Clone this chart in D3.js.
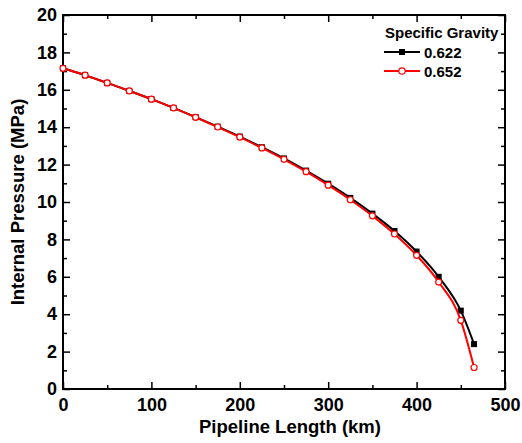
<!DOCTYPE html>
<html><head><meta charset="utf-8">
<script src="https://cdn.jsdelivr.net/npm/d3@7"></script>
<style>body{margin:0;background:#fff}svg text{font-family:Arial,"Liberation Sans",sans-serif;font-weight:bold}</style>
</head><body>
<svg id="c" width="522" height="443"></svg>
<script>
const distances = [0,25,50,75,100,125,150,175,200,225,250,275,300,325,350,375,400,425,450,465];
const sg622 = [17.15,16.78,16.37,15.94,15.5,15.03,14.54,14.03,13.5,12.93,12.33,11.68,10.98,10.22,9.38,8.45,7.35,6.0,4.19,2.4];
const sg652 = [17.15,16.78,16.37,15.94,15.5,15.03,14.53,14.01,13.47,12.89,12.28,11.62,10.9,10.12,9.26,8.29,7.15,5.72,3.67,1.15];
const seriesNames = ["0.622","0.652"];
const xTicks = [0,100,200,300,400,500];
const yTicks = [0,2,4,6,8,10,12,14,16,18,20];

const svg = d3.select("#c");
const L=63,R=505,T=15,B=389;
const x = d3.scaleLinear().domain([0,500]).range([L,R]);
const y = d3.scaleLinear().domain([0,20]).range([B,T]);

// frame
svg.append("rect").attr("x",L).attr("y",T).attr("width",R-L).attr("height",B-T)
  .attr("fill","none").attr("stroke","#000").attr("stroke-width",2);

const g = svg.append("g");
function ticks(axisGen, transform){
  const a = g.append("g").attr("transform",transform).call(axisGen);
  a.select(".domain").remove();
  a.selectAll("line").attr("stroke","#000").attr("stroke-width",1.5);
  return a;
}
const xMinor = d3.range(50,500,100);
const yMinor = d3.range(1,20,2);
// bottom
const xb = ticks(d3.axisBottom(x).tickValues(xTicks).tickSizeInner(-7).tickSizeOuter(0).tickPadding(9), `translate(0,${B})`);
xb.selectAll("text").attr("font-size",18).attr("fill","#000");
ticks(d3.axisBottom(x).tickValues(xMinor).tickSizeInner(-4).tickSizeOuter(0).tickFormat(""), `translate(0,${B})`);
// top
ticks(d3.axisTop(x).tickValues(xTicks).tickSizeInner(-7).tickSizeOuter(0).tickFormat(""), `translate(0,${T})`);
ticks(d3.axisTop(x).tickValues(xMinor).tickSizeInner(-4).tickSizeOuter(0).tickFormat(""), `translate(0,${T})`);
// left
const yl = ticks(d3.axisLeft(y).tickValues(yTicks).tickSizeInner(-7).tickSizeOuter(0).tickPadding(6), `translate(${L},0)`);
yl.selectAll("text").attr("font-size",18).attr("fill","#000");
ticks(d3.axisLeft(y).tickValues(yMinor).tickSizeInner(-4).tickSizeOuter(0).tickFormat(""), `translate(${L},0)`);
// right
ticks(d3.axisRight(y).tickValues(yTicks).tickSizeInner(-7).tickSizeOuter(0).tickFormat(""), `translate(${R},0)`);
ticks(d3.axisRight(y).tickValues(yMinor).tickSizeInner(-4).tickSizeOuter(0).tickFormat(""), `translate(${R},0)`);

// titles
svg.append("text").attr("x",290).attr("y",433).attr("text-anchor","middle").attr("font-size",18.5).text("Pipeline Length (km)");
svg.append("text").attr("transform",`translate(24,${(T+B)/2}) rotate(-90)`).attr("text-anchor","middle").attr("font-size",18.5).text("Internal Pressure (MPa)");

const line = d3.line().x((d,i)=>x(distances[i])).y(d=>y(d)).curve(d3.curveMonotoneX);
const mg = svg.append("g");
// black series
mg.append("path").datum(sg622).attr("d",line).attr("fill","none").attr("stroke","#000").attr("stroke-width",2);
mg.selectAll(".sq").data(sg622).enter().append("rect")
  .attr("x",(d,i)=>x(distances[i])-3).attr("y",d=>y(d)-3).attr("width",6).attr("height",6).attr("fill","#000");
// red series
mg.append("path").datum(sg652).attr("d",line).attr("fill","none").attr("stroke","#ff0000").attr("stroke-width",2);
mg.selectAll(".ci").data(sg652).enter().append("circle")
  .attr("cx",(d,i)=>x(distances[i])).attr("cy",d=>y(d)).attr("r",3).attr("fill","#fff").attr("stroke","#ff0000").attr("stroke-width",1.2);

// legend
const lg = svg.append("g");
lg.append("text").attr("x",385).attr("y",38).attr("font-size",15).text("Specific Gravity");
const colors = ["#000","#ff0000"];
seriesNames.forEach((n,i)=>{
  const yy = 52 + i*19;
  lg.append("line").attr("x1",384).attr("x2",420).attr("y1",yy).attr("y2",yy).attr("stroke",colors[i]).attr("stroke-width",2);
  if(i===0) lg.append("rect").attr("x",399).attr("y",yy-3).attr("width",6).attr("height",6).attr("fill","#000");
  else lg.append("circle").attr("cx",402).attr("cy",yy).attr("r",3.2).attr("fill","#fff").attr("stroke","#ff0000").attr("stroke-width",1.2);
  lg.append("text").attr("x",424).attr("y",yy+5.5).attr("font-size",15).text(n);
});
</script>
</body></html>
